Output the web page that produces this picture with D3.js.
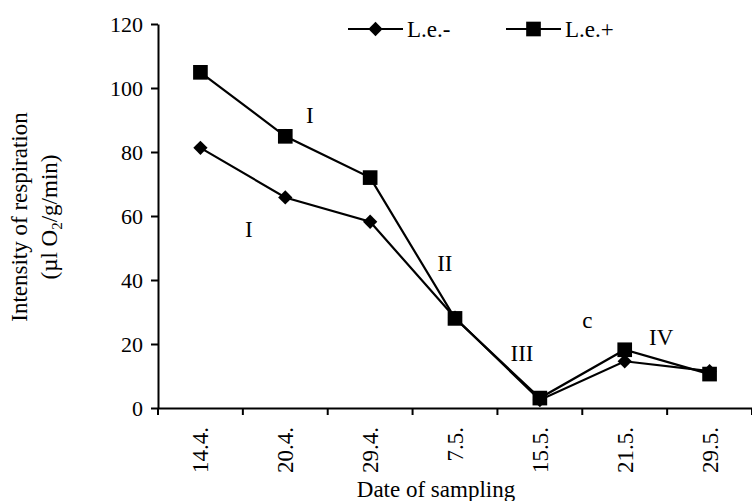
<!DOCTYPE html>
<html>
<head>
<meta charset="utf-8">
<script src="https://cdn.jsdelivr.net/npm/d3@7"></script>
<style>
  body { margin: 0; background: #fff; }
  text { font-family: "Liberation Serif", "Times New Roman", serif; fill: #000; }
</style>
</head>
<body>
<svg id="chart" width="752" height="501"></svg>
<script>
// sampling dates and respiration values (µl O2/g/min)
const dates = ['14.4.', '20.4.', '29.4.', '7.5.', '15.5.', '21.5.', '29.5.'];
const leMinus = [81.3, 65.8, 58.2, 28.2, 2.5, 14.6, 11.5];
const lePlus = [104.9, 84.9, 72.0, 28.0, 3.1, 18.2, 10.6];
const yTicks = [0, 20, 40, 60, 80, 100, 120];

// phase labels, placed in data space (band index, value)
const phaseLabels = ['I', 'I', 'II', 'III', 'c', 'IV'];
const phaseIdx = [1.79, 1.07, 3.38, 4.29, 5.06, 5.93];
const phaseVal = [91.6, 55.9, 45.3, 17.2, 27.4, 22.2];

const margin = { top: 24, right: 0, bottom: 93, left: 158 };
const width = 752;
const height = 501;
const fontSize = 23;
const numSize = 22;

const svg = d3.select('#chart');

// Scales
const x = d3.scaleBand().domain(dates).range([margin.left, width - margin.right]).padding(0);
const xIdx = d3.scaleLinear().domain([0, dates.length]).range([margin.left, width - margin.right]);
const y = d3.scaleLinear().domain([0, 120]).range([height - margin.bottom, margin.top]);
const cx = (d, i) => x(dates[i]) + x.bandwidth() / 2;

// Y axis
const yAxis = svg.append('g')
  .attr('transform', `translate(${margin.left},0)`)
  .call(d3.axisLeft(y).tickValues(yTicks).tickSize(7).tickPadding(8).tickSizeOuter(0));
yAxis.selectAll('path, line').attr('stroke', '#000').attr('stroke-width', 2);
yAxis.selectAll('text').style('font-size', numSize + 'px').style('font-family', '"Liberation Serif", serif');

// X axis: line, ticks at band boundaries, rotated labels at centres
const xAxis = svg.append('g')
  .attr('transform', `translate(0,${y(0)})`)
  .call(d3.axisBottom(x).tickSize(0).tickPadding(0).tickSizeOuter(0));
xAxis.select('.domain').attr('stroke', '#000').attr('stroke-width', 2);
xAxis.selectAll('text')
  .style('font-size', fontSize + 'px')
  .style('font-family', '"Liberation Serif", serif')
  .attr('transform', 'rotate(-90)')
  .attr('text-anchor', 'end')
  .attr('x', -19)
  .attr('y', 0)
  .attr('dy', '0.35em');
xAxis.selectAll('.bound')
  .data(d3.range(dates.length + 1))
  .enter()
  .append('line')
  .attr('class', 'bound')
  .attr('x1', (d) => xIdx(d))
  .attr('x2', (d) => xIdx(d))
  .attr('y1', 0)
  .attr('y2', 7)
  .attr('stroke', '#000')
  .attr('stroke-width', 2);

// Axis titles
svg.append('text')
  .attr('x', 436)
  .attr('y', 497)
  .attr('text-anchor', 'middle')
  .style('font-size', fontSize + 'px')
  .text('Date of sampling');

const yTitle = svg.append('g').attr('transform', 'translate(0,217) rotate(-90)');
yTitle.append('text')
  .attr('x', 0)
  .attr('y', 27)
  .attr('text-anchor', 'middle')
  .style('font-size', fontSize + 'px')
  .text('Intensity of respiration');
const y2 = yTitle.append('text')
  .attr('x', 0)
  .attr('y', 57)
  .attr('text-anchor', 'middle')
  .style('font-size', fontSize + 'px');
y2.append('tspan').text('(µl O');
y2.append('tspan').attr('dy', 5).style('font-size', '15px').text('2');
y2.append('tspan').attr('dy', -5).text('/g/min)');

// Lines
const line = d3.line().x(cx).y((d) => y(d));

svg.append('path')
  .datum(leMinus)
  .attr('fill', 'none')
  .attr('stroke', '#000')
  .attr('stroke-width', 2.2)
  .attr('d', line);

svg.append('path')
  .datum(lePlus)
  .attr('fill', 'none')
  .attr('stroke', '#000')
  .attr('stroke-width', 2.2)
  .attr('d', line);

// Markers
const diamond = d3.symbol().type(d3.symbolDiamond2).size(130);
const square = d3.symbol().type(d3.symbolSquare).size(215);

svg.selectAll('.dia')
  .data(leMinus)
  .enter()
  .append('path')
  .attr('class', 'dia')
  .attr('d', diamond)
  .attr('transform', (d, i) => `translate(${cx(d, i)},${y(d)})`)
  .attr('fill', '#000');

svg.selectAll('.sq')
  .data(lePlus)
  .enter()
  .append('path')
  .attr('class', 'sq')
  .attr('d', square)
  .attr('transform', (d, i) => `translate(${cx(d, i)},${y(d)})`)
  .attr('fill', '#000');

// Phase labels
svg.selectAll('.phase')
  .data(phaseLabels)
  .enter()
  .append('text')
  .attr('class', 'phase')
  .attr('x', (d, i) => xIdx(phaseIdx[i]))
  .attr('y', (d, i) => y(phaseVal[i]))
  .attr('dy', '0.35em')
  .attr('text-anchor', 'middle')
  .style('font-size', fontSize + 'px')
  .text((d) => d);

// Legend
const legend = [
  { name: 'L.e.-', sym: diamond, x0: 348 },
  { name: 'L.e.+', sym: square, x0: 506 }
];
const lg = svg.selectAll('.legend')
  .data(legend)
  .enter()
  .append('g')
  .attr('class', 'legend')
  .attr('transform', (d) => `translate(${d.x0},29)`);
lg.append('line')
  .attr('x1', 0)
  .attr('x2', 55)
  .attr('stroke', '#000')
  .attr('stroke-width', 2.2);
lg.append('path')
  .attr('d', (d) => d.sym())
  .attr('transform', 'translate(27.5,0)')
  .attr('fill', '#000');
lg.append('text')
  .attr('x', 59)
  .attr('dy', '0.35em')
  .style('font-size', fontSize + 'px')
  .text((d) => d.name);
</script>
</body>
</html>
